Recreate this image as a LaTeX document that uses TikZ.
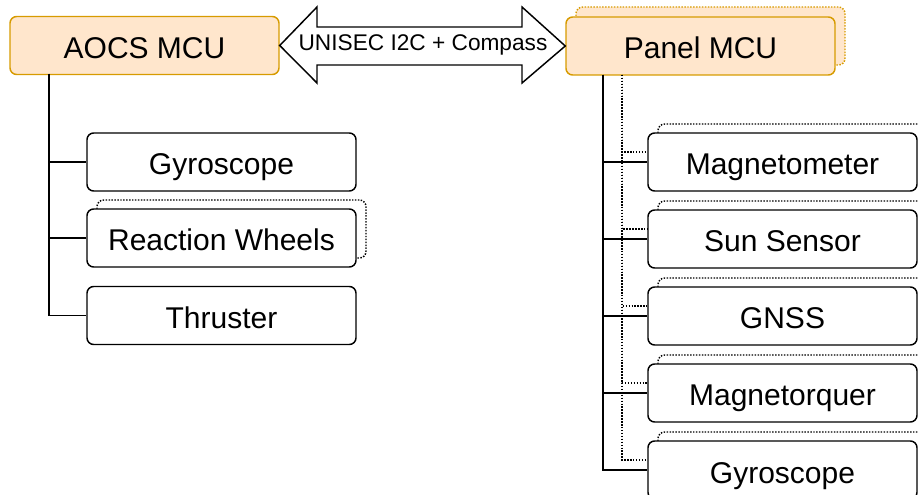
\documentclass[tikz,border=0pt]{standalone}
\usepackage{fontspec}
\setmainfont{Liberation Sans}
\usetikzlibrary{calc}
\definecolor{mcufill}{HTML}{FFE6CC}
\definecolor{mculine}{HTML}{D79B00}
\begin{document}
\begin{tikzpicture}[x=0.75pt,y=-0.75pt,
  box/.style={draw,line width=1.1pt,rounded corners=5pt,fill=white,
    minimum width=201.75pt,minimum height=43.5pt,inner sep=0pt,
    text height=21pt,text depth=1.5pt,
    font=\fontsize{22.5}{27}\selectfont},
  mcu/.style={box,draw=mculine,fill=mcufill},
  ghost/.style={dash pattern=on 1.1pt off 1.1pt},
  wire/.style={line width=1.1pt},
  dotwire/.style={line width=1.1pt,dash pattern=on 1.1pt off 1.1pt}]
  \useasboundingbox (0,0) rectangle (918,495);
  % controllers
  \node[mcu] (aocs) at (144.5,45.5) {AOCS MCU};
  \node[mcu,ghost] (panelback) at (710.5,36) {};
  \node[mcu] (panel) at (700.5,46) {Panel MCU};
  % AOCS side
  \node[box] (gyroA) at (221.5,162) {Gyroscope};
  \node[box,ghost] (wheelsback) at (231.5,229) {};
  \node[box] (wheels) at (221.5,238) {Reaction Wheels};
  \node[box] (thruster) at (221.5,315.5) {Thruster};
  % panel side
  \foreach \name/\ypos/\txt in {mag/162/Magnetometer, sun/239/Sun Sensor,
      gnss/316/GNSS, mtq/393/Magnetorquer, gyroB/470/Gyroscope} {
    \node[box,ghost] at (792.5,\ypos-9) {};
    \node[box] (\name) at (782.5,\ypos) {\txt};
  }
  % tree lines
  \coordinate (aocsfoot) at (49,74);
  \foreach \kid in {gyroA,wheels,thruster}
    \draw[wire] (aocsfoot) |- (\kid.west);
  \coordinate (panelfoot) at (603,75);
  \coordinate (panelfootb) at (622,75);
  \foreach \kid in {mag,sun,gnss,mtq,gyroB} {
    \draw[wire] (panelfoot) |- (\kid.west);
    \draw[dotwire] (panelfootb) |- ($(\kid.west)+(0,-10)$);
  }
  % bus link
  \draw[wire,fill=white] (aocs.east) -- (317,7) -- (317,27) -- (522,27) -- (522,7)
    -- (panel.west) -- (522,83) -- (522,65) -- (317,65) -- (317,83) -- cycle;
  \node[font=\fontsize{17}{20}\selectfont] (link) at (423,45) {UNISEC I2C + Compass};
\end{tikzpicture}
\end{document}
